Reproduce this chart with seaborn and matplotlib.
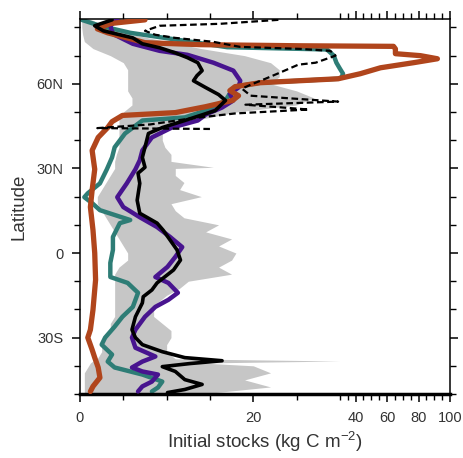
import numpy as np
import pandas as pd
import matplotlib
matplotlib.use("Agg")
import matplotlib.pyplot as plt
import seaborn as sns

# ---------------- data (latitude in degrees, stocks in kg C m-2) ----------------
brown_lat = [82.7, 81.4, 79.5, 78.1, 76.0, 74.6, 73.9, 73.5, 73.3, 72.4, 70.7, 70.0, 68.9, 67.5,
             65.7, 63.6, 61.8, 60.4, 59.0, 57.6, 55.8, 54.1, 51.9, 49.8, 48.8, 46.6, 44.5, 41.0,
             36.4, 29.7, 22.3, 16.3, 8.1, 0.0, -9.5, -20.1, -27.2, -30.0, -34.3, -37.1, -40.6,
             -44.2, -47.3, -49.1]
brown_val = [7.5, 3.5, 2.0, 3.2, 5.8, 7.5, 13.9, 25.4, 64.1, 65.3, 65.3, 81.2, 92.0, 76.8,
             55.8, 43.0, 29.8, 20.8, 17.9, 17.3, 18.3, 17.6, 14.5, 11.0, 4.9, 3.7, 3.2, 2.1,
             1.4, 1.7, 1.4, 1.2, 1.5, 1.7, 1.8, 1.5, 1.2, 0.9, 1.4, 1.7, 2.1,
             2.3, 1.5, 1.2]

teal_lat = [82.7, 80.6, 78.1, 75.3, 73.0, 72.2, 70.0, 67.5, 65.4, 63.6, 62.3, 61.8, 60.4, 59.0, 57.6, 54.1,
            50.5, 48.1, 47.0, 42.4, 37.5, 33.9, 29.7, 24.7, 21.2, 19.8, 17.7, 15.2, 11.7, 10.6,
            5.7, 1.1, -3.5, -8.5, -10.6, -14.1, -19.1, -22.6, -26.1, -30.0, -32.5, -36.0, -38.5,
            -40.6, -43.1, -45.6, -47.7, -49.1]
teal_val = [0.2, 2.3, 5.8, 12.0, 17.0, 28.5, 29.3, 29.6, 30.0, 32.0, 31.0, 29.8, 20.8, 17.9, 17.5, 16.8,
            14.5, 12.1, 7.2, 5.2, 4.0, 3.7, 3.1, 2.3, 0.9, 0.5, 1.4, 2.3, 5.8, 4.6,
            3.8, 3.8, 3.5, 3.5, 5.5, 6.7, 6.1, 4.9, 4.0, 2.9, 2.5, 3.7, 3.2,
            4.0, 7.2, 9.5, 9.0, 8.3]

purple_lat = [83.0, 80.6, 77.7, 74.2, 71.7, 70.3, 67.5, 64.7, 61.1, 58.7, 56.5, 54.1, 51.6, 49.1,
              47.0, 44.5, 41.0, 36.4, 32.9, 29.7, 24.7, 19.8, 16.3, 12.7, 9.2, 5.7, 2.1, -1.4,
              -4.9, -8.5, -10.6, -14.1, -16.6, -19.1, -22.6, -27.2, -30.0, -33.6, -36.7, -38.5,
              -40.6, -42.0, -43.1, -45.6, -47.3, -49.1]
purple_val = [4.3, 3.5, 3.8, 6.1, 9.2, 12.4, 15.4, 17.7, 18.5, 18.3, 17.3, 17.7, 16.4, 14.5,
              13.6, 10.6, 8.3, 7.2, 6.9, 6.4, 5.4, 4.3, 5.0, 6.9, 8.9, 10.4, 11.8, 11.0,
              10.1, 8.7, 10.2, 11.3, 10.2, 8.7, 7.5, 6.4, 6.0, 6.4, 8.7, 7.2,
              6.0, 7.2, 9.0, 8.3, 7.2, 6.7]

black_lat = [82.7, 80.6, 78.8, 76.3, 74.2, 72.8, 71.0, 69.3, 67.5, 64.7, 62.9, 61.1, 58.7, 56.2,
             54.1, 50.5, 47.0, 44.5, 42.4, 37.5, 33.9, 30.4, 28.3, 24.7, 18.7, 14.1, 10.6, 8.1,
             4.6, 1.1, -2.5, -6.0, -10.6, -13.1, -15.5, -17.7, -22.6, -27.2, -30.0, -32.5, -35.0,
             -37.1, -38.2, -39.2, -40.3, -42.0, -44.9, -46.6, -48.4, -49.5]
black_val = [3.7, 1.7, 2.7, 6.1, 7.2, 9.2, 11.0, 12.4, 13.6, 14.1, 13.5, 13.1, 14.5, 16.0,
             16.8, 15.6, 12.1, 9.5, 7.9, 7.5, 7.2, 7.5, 6.7, 6.9, 6.6, 6.9, 8.9, 9.6,
             10.4, 11.2, 11.6, 10.8, 8.9, 8.3, 7.3, 7.2, 6.4, 6.0, 6.4, 7.2, 9.5,
             12.1, 16.4, 12.7, 9.5, 11.0, 12.1, 14.1, 12.1, 10.1]

dash_lat = [82.7, 81.3, 80.6, 78.8, 77.4, 76.3, 74.9, 73.1, 72.4, 71.7, 70.0, 67.5, 66.8, 64.0,
            61.8, 59.7, 58.3, 55.8, 53.7, 52.6, 50.9, 49.5, 47.7, 45.6, 44.3, 44.0]
dash_val = [22.9, 16.2, 9.2, 7.5, 8.7, 11.0, 15.4, 18.5, 25.4, 28.9, 29.5, 27.2, 25.2, 23.1,
            21.4, 19.7, 18.7, 19.7, 29.8, 19.1, 26.4, 17.9, 12.7, 8.1, 2.0, 15.0]

band_lat = [83, 82.5, 80, 77.5, 75, 72.5, 70, 67.5, 65, 62.5, 60, 57.5, 55, 52.5, 50, 47.5, 45,
            42.5, 40, 37.5, 35, 32.5, 30.4, 30, 27.5, 25, 22.5, 20, 17.5, 15, 12.5, 10, 7.5,
            5, 2.5, 0, -2.5, -5, -7.5, -10, -12.5, -15, -17.5, -20, -22.5, -25, -27.5, -30,
            -32.5, -35, -37.5, -38.3, -39, -40, -42.5, -45, -47.5, -50]
band_lo = [0.2, 0.2, 0.2, 0.3, 0.5, 1.5, 3.5, 5.0, 5.5, 5.5, 5.5, 5.5, 6.0, 6.0, 5.0, 4.5, 4.5,
           4.5, 4.5, 4.5, 4.2, 4.0, 4.0, 4.0, 3.5, 3.0, 2.5, 2.0, 2.0, 2.5, 3.0, 3.5, 4.0,
           4.5, 5.0, 5.5, 5.5, 4.5, 4.0, 4.0, 4.0, 4.0, 4.0, 4.0, 4.0, 3.5, 3.5, 3.0,
           2.5, 2.5, 2.0, 1.5, 1.2, 1.0, 0.5, 0.5, 0.5, 0.5]
band_hi = [1.0, 1.5, 3.0, 6.0, 10.0, 14.0, 19.0, 22.0, 23.0, 23.0, 22.0, 25.0, 27.0, 25.0, 18.0, 14.0, 9.0,
           9.5, 9.5, 9.8, 10.5, 10.5, 15.4, 11.0, 11.0, 12.0, 11.5, 14.0, 10.5, 11.0, 12.0, 16.0, 14.5,
           17.5, 16.0, 18.0, 17.5, 16.0, 17.5, 12.5, 11.5, 10.0, 9.0, 8.5, 8.5, 9.5, 10.5, 10.5,
           10.0, 10.0, 11.0, 30.0, 14.0, 20.0, 22.0, 19.0, 22.0, 14.0]

x_major = [0, 20, 40, 60, 80, 100]
y_major = [60, 30, 0, -30]
y_labels = ["60N", "30N", "0", "30S"]

# ---------------- style ----------------
sns.set_style("ticks")
plt.rcParams["font.family"] = ["Liberation Sans", "DejaVu Sans"]
plt.rcParams["mathtext.fontset"] = "custom"
plt.rcParams["mathtext.rm"] = "Liberation Sans"
plt.rcParams["mathtext.it"] = "Liberation Sans"

K = 1.571 / 8.65

def fwd(x):
    x = np.asarray(x, dtype=float)
    return np.where(x <= 30, x, 30 + (x - 30) * K)

def inv(y):
    y = np.asarray(y, dtype=float)
    return np.where(y <= 30, y, 30 + (y - 30) / K)

fig = plt.figure(figsize=(4.64, 4.58), dpi=100)
ax = fig.add_axes([80 / 464, 1 - 394 / 458, 370 / 464, 375 / 458])
ax.set_xscale("function", functions=(fwd, inv))

ax.fill_betweenx(band_lat, band_lo, band_hi, color="#c6c6c6", lw=0, zorder=1)

def draw(vals, lats, color, lw, z, **kw):
    df = pd.DataFrame({"v": vals, "lat": lats})
    sns.lineplot(data=df, x="v", y="lat", sort=False, estimator=None, orient="y",
                 color=color, lw=lw, ax=ax, zorder=z, **kw)

draw(teal_val, teal_lat, "#2e7d76", 3.2, 2)
draw(purple_val, purple_lat, "#48148f", 3.2, 3)
draw(brown_val, brown_lat, "#b0451c", 3.8, 4)
draw(black_val, black_lat, "black", 2.6, 5)
draw(dash_val, dash_lat, "black", 1.6, 6, linestyle=(0, (3, 1.6)))

ax.set_xlim(0, 100)
ax.set_ylim(-50, 83)
ax.set_xticks(x_major)
ax.set_xticklabels([str(v) for v in x_major])
ax.set_xticks([5, 10, 15, 25, 30] + list(range(35, 100, 5)), minor=True)
ax.set_yticks(y_major)
ax.set_yticklabels(y_labels)
ax.set_yticks([80, 70, 50, 40, 20, 10, -10, -20, -40, -50], minor=True)

ax.tick_params(which="both", direction="out", top=True, right=True,
               labeltop=False, labelright=False, color="black",
               labelcolor="#333333", labelsize=10.5)
ax.tick_params(which="major", length=6, width=1.1, pad=6)
ax.tick_params(which="minor", length=4, width=1.0)

for s in ax.spines.values():
    s.set_linewidth(1.1)
    s.set_color("black")
ax.spines["bottom"].set_linewidth(2.5)

ax.set_xlabel("Initial stocks (kg C m$^{-2}$)", fontsize=13.5, color="#333333", labelpad=4)
ax.set_ylabel("Latitude", fontsize=13.5, color="#333333", labelpad=6)

fig.savefig("out.png", dpi=100)
